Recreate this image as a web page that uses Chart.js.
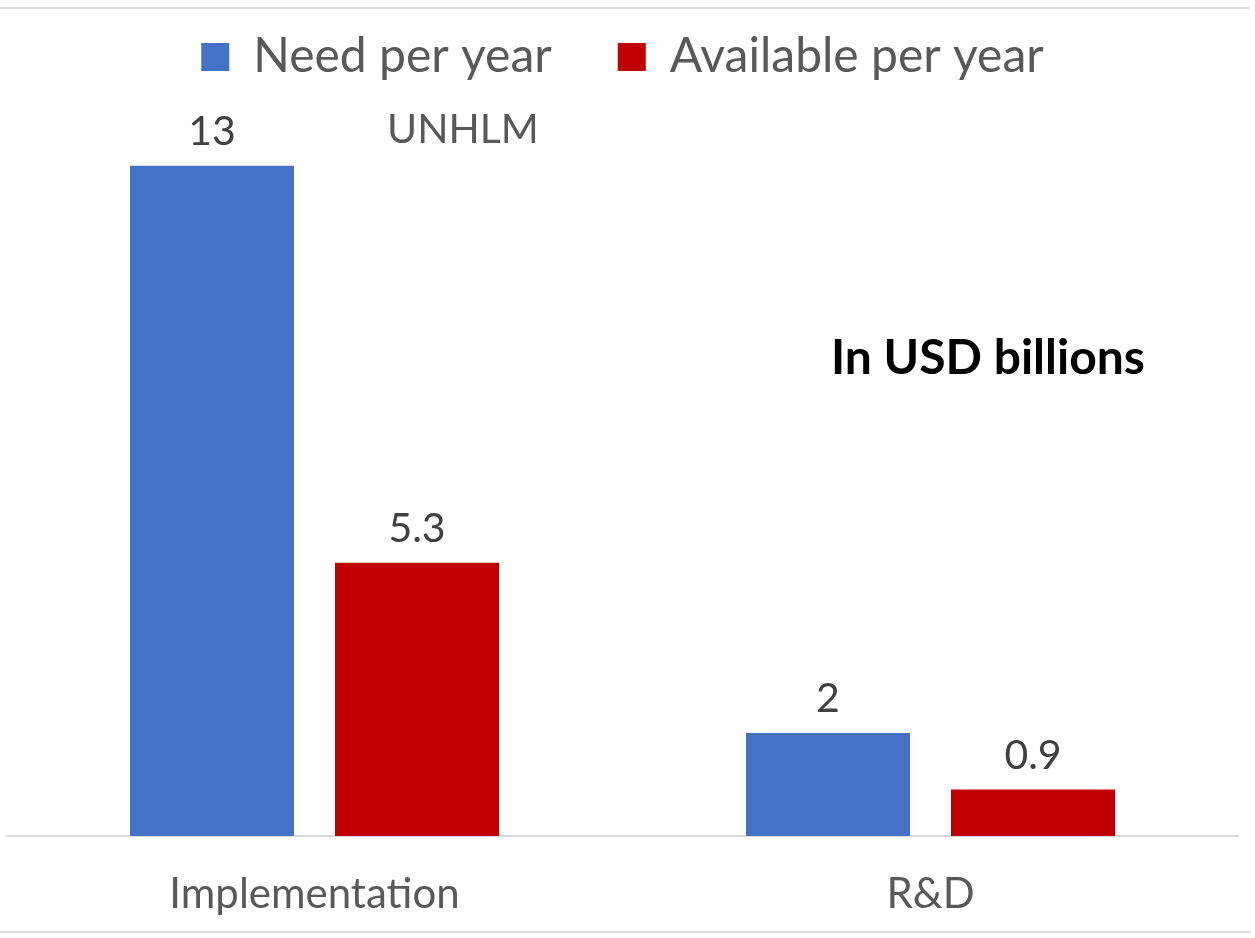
<!DOCTYPE html>
<html>
<head>
<meta charset="utf-8">
<script src="https://cdn.jsdelivr.net/npm/chart.js@4.4.1/dist/chart.umd.min.js"></script>
<style>
    html, body { margin: 0; padding: 0; background: #fff; }
    #wrap { width: 1255px; height: 938px; position: relative; }
</style>
</head>
<body>
<div id="wrap"><canvas id="fundingChart"></canvas></div>
<script>
// --- Data ---
const categories = ['Implementation', 'R&D'];
const seriesNames = ['Need per year', 'Available per year'];
const needValues = [13, 2];
const availableValues = [5.3, 0.9];
const valueLabels = [['13', '2'], ['5.3', '0.9']];

const FONT = 'Lato, "Open Sans", sans-serif';

// border lines, data labels and the two notes
const extrasPlugin = {
    id: 'extras',
    beforeDraw(chart) {
        const ctx = chart.ctx;
        ctx.save();
        ctx.fillStyle = '#d9d9d9';
        ctx.fillRect(0, 7, 1250, 2);
        ctx.fillRect(0, 931, 1250, 2);
        ctx.restore();
    },
    afterDatasetsDraw(chart) {
        const ctx = chart.ctx;
        ctx.save();
        ctx.font = '41px ' + FONT;
        ctx.fillStyle = '#404040';
        ctx.textAlign = 'center';
        ctx.textBaseline = 'alphabetic';
        chart.data.datasets.forEach((ds, i) => {
            chart.getDatasetMeta(i).data.forEach((bar, j) => {
                ctx.fillText(valueLabels[i][j], bar.x, bar.y - 21);
            });
        });

        const ca = chart.chartArea;
        const w = ca.right - ca.left;
        ctx.fillStyle = '#595959';
        ctx.fillText('UNHLM', ca.left + 0.3705 * w, ca.top + 52);

        ctx.font = 'bold 48px ' + FONT;
        ctx.fillStyle = '#000000';
        ctx.fillText('In USD billions', ca.left + 0.7966 * w, ca.top + 283);
        ctx.restore();
    }
};

new Chart(document.getElementById('fundingChart'), {
    type: 'bar',
    data: {
        labels: categories,
        datasets: [
            { label: seriesNames[0], data: needValues, backgroundColor: '#4472C4' },
            { label: seriesNames[1], data: availableValues, backgroundColor: '#C00000' }
        ]
    },
    options: {
        responsive: true,
        maintainAspectRatio: false,
        animation: false,
        categoryPercentage: 0.6656,
        barPercentage: 0.8,
        layout: { padding: { top: -33, left: 6.5, right: 16.5, bottom: 0 } },
        plugins: {
            legend: {
                position: 'top',
                labels: {
                    boxWidth: 28,
                    boxHeight: 28,
                    padding: 66,
                    color: '#595959',
                    font: { family: FONT, size: 48 }
                }
            },
            tooltip: { enabled: false }
        },
        scales: {
            x: {
                grid: { display: false, drawTicks: false },
                border: { display: true, color: '#d9d9d9', width: 2 },
                ticks: { color: '#595959', padding: 33, font: { family: FONT, size: 42 } },
                afterFit: s => { s.height = 102; }
            },
            y: {
                display: false,
                min: 0,
                max: 14.45
            }
        }
    },
    plugins: [extrasPlugin]
});
</script>
</body>
</html>
